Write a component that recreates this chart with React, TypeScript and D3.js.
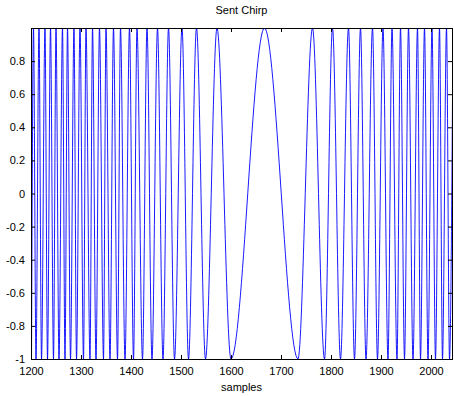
import { useEffect, useRef } from 'react';
import * as d3 from 'd3';

// sample positions of the crests (+1) and troughs (-1)
const peakSamples = [
  1205, 1216, 1228, 1239, 1250, 1263, 1273, 1286, 1298, 1310, 1323, 1337, 1350,
  1365, 1379, 1397, 1412, 1432, 1453, 1475, 1502, 1531, 1572, 1667, 1763, 1803,
  1835, 1859, 1883, 1904, 1922, 1939, 1955, 1973, 1987, 2002, 2017, 2031, 2044,
];
const troughSamples = [
  1201, 1210, 1221, 1233, 1245, 1256, 1268, 1279, 1291, 1305, 1318, 1330, 1345,
  1358, 1373, 1388, 1405, 1423, 1442, 1464, 1487, 1515, 1549, 1600, 1734, 1787,
  1819, 1847, 1870, 1893, 1914, 1932, 1947, 1964, 1979, 1994, 2009, 2023, 2037,
];
const xTicks = [1200, 1300, 1400, 1500, 1600, 1700, 1800, 1900, 2000];
const yTicks = [-1, -0.8, -0.6, -0.4, -0.2, 0, 0.2, 0.4, 0.6, 0.8];
const xDomain = [1200, 2042];
const yDomain = [-1, 1];

const W = 454;
const H = 396;

const Chart = () => {
  const svgRef = useRef<SVGSVGElement>(null);

  useEffect(() => {
    if (!svgRef.current) return;
    const root = d3.select(svgRef.current);
    root.selectAll('*').remove();

    const left = 31, right = 452, top = 28, bottom = 359;
    const x = d3.scaleLinear().domain(xDomain).range([left, right]);
    const y = d3.scaleLinear().domain(yDomain).range([bottom, top]);

    const pts: [number, number][] = [
      ...peakSamples.map(s => [s, 1] as [number, number]),
      ...troughSamples.map(s => [s, -1] as [number, number]),
    ].sort((a, b) => a[0] - b[0]);

    root.append('rect').attr('width', W).attr('height', H).attr('fill', '#fff');

    root.append('clipPath').attr('id', 'plot-clip')
      .append('rect')
      .attr('x', left).attr('y', top)
      .attr('width', right - left).attr('height', bottom - top);

    const line = d3.line<[number, number]>()
      .x(d => x(d[0]))
      .y(d => y(d[1]))
      .curve(d3.curveMonotoneX);

    root.append('path')
      .datum(pts)
      .attr('clip-path', 'url(#plot-clip)')
      .attr('fill', 'none')
      .attr('stroke', '#0000ff')
      .attr('stroke-width', 0.9)
      .attr('d', line);

    const font = '"Liberation Sans", Arial, sans-serif';
    const fmt = (d: d3.NumberValue) => String(d);

    // bottom / top axes, ticks pointing inward
    const gx = root.append('g')
      .attr('transform', `translate(0, ${bottom})`)
      .call(d3.axisBottom(x).tickValues(xTicks).tickFormat(fmt)
        .tickSizeInner(-4).tickSizeOuter(0).tickPadding(8));
    const gxTop = root.append('g')
      .attr('transform', `translate(0, ${top})`)
      .call(d3.axisTop(x).tickValues(xTicks).tickFormat(() => '')
        .tickSizeInner(-4).tickSizeOuter(0));
    const gy = root.append('g')
      .attr('transform', `translate(${left}, 0)`)
      .call(d3.axisLeft(y).tickValues(yTicks).tickFormat(fmt)
        .tickSizeInner(-4).tickSizeOuter(0).tickPadding(6));
    const gyRight = root.append('g')
      .attr('transform', `translate(${right}, 0)`)
      .call(d3.axisRight(y).tickValues(yTicks).tickFormat(() => '')
        .tickSizeInner(-4).tickSizeOuter(0));

    [gx, gxTop, gy, gyRight].forEach(g => {
      g.select('.domain').remove();
      g.selectAll('line').attr('stroke', '#000');
      g.selectAll('text')
        .attr('font-family', font)
        .attr('font-size', '11px')
        .attr('fill', '#000');
    });

    // axes box
    root.append('rect')
      .attr('x', left).attr('y', top)
      .attr('width', right - left).attr('height', bottom - top)
      .attr('fill', 'none')
      .attr('stroke', '#000')
      .attr('stroke-width', 1)
      .attr('shape-rendering', 'crispEdges');

    root.append('text')
      .attr('x', (left + right) / 2)
      .attr('y', 14)
      .attr('text-anchor', 'middle')
      .attr('font-family', font)
      .attr('font-size', '11px')
      .attr('fill', '#000')
      .text('Sent Chirp');

    root.append('text')
      .attr('x', (left + right) / 2)
      .attr('y', 391)
      .attr('text-anchor', 'middle')
      .attr('font-family', font)
      .attr('font-size', '11px')
      .attr('fill', '#000')
      .text('samples');
  }, []);

  return (
    <svg
      ref={svgRef}
      width={W}
      height={H}
      style={{ position: 'absolute', left: 0, top: 0 }}
    />
  );
};

export default function App() {
  return <Chart />;
}
